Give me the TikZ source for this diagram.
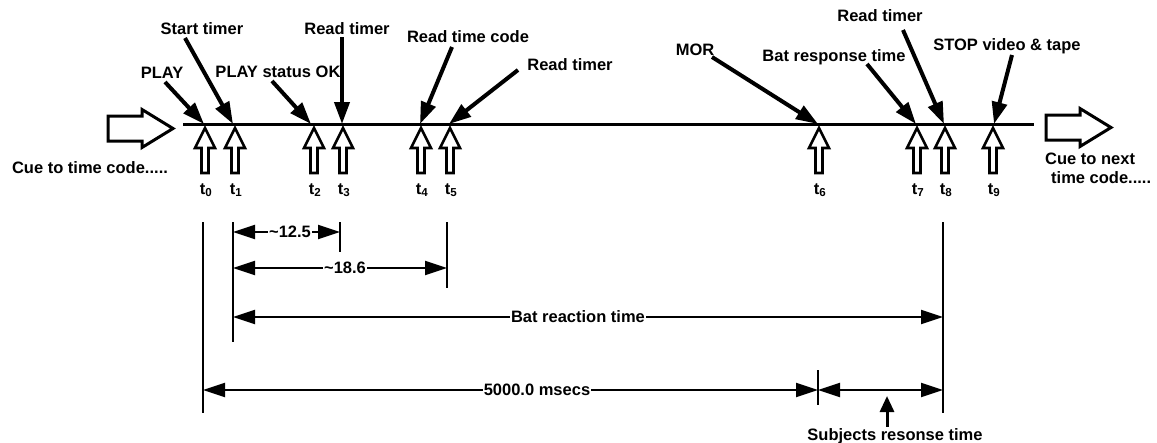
\documentclass[tikz,border=0pt]{standalone}
\usepackage{fontspec}
\setmainfont{Liberation Sans}
\usetikzlibrary{arrows.meta}

\begin{document}
\begin{tikzpicture}[x=1pt,y=-1pt,
  txt/.style={font=\bfseries\fontsize{16.5}{19}\selectfont,inner sep=1pt},
  callout/.style={line width=4pt,-{Triangle[length=22pt,width=15pt]}},
  dim/.style={line width=2.2pt,-{Triangle[length=22pt,width=14pt]}},
  bothdim/.style={line width=2.2pt,{Triangle[length=22pt,width=14pt]}-{Triangle[length=22pt,width=14pt]}},
  vline/.style={line width=2.6pt},
  timeline/.style={line width=3pt},
  upopen/.pic={\draw[line width=2.6pt] (0,0) -- (10,20) -- (3.5,20) -- (3.5,45) -- (-3.5,45) -- (-3.5,20) -- (-10,20) -- cycle;},
  bigopen/.pic={\draw[line width=3pt] (0,-12.5) -- (34,-12.5) -- (34,-19) -- (65,0) -- (34,19) -- (34,12.5) -- (0,12.5) -- cycle;}]
  \useasboundingbox (0,0) rectangle (1157,442);

  \coordinate (tlstart) at (183,124);
  \coordinate (tlend) at (1034,124);
  \draw[timeline] (tlstart) -- (tlend);
  \pic at (108,128.5) {bigopen};
  \pic at (1046,127.5) {bigopen};

  \coordinate (t0) at (204,124);
  \coordinate (t1) at (233,124);
  \coordinate (t2) at (311,124);
  \coordinate (t3) at (342,124);
  \coordinate (t4) at (420,124);
  \coordinate (t5) at (449,124);
  \coordinate (t6) at (818,124);
  \coordinate (t7) at (916,124);
  \coordinate (t8) at (944,124);
  \coordinate (t9) at (994,124);

  \pic at (205,128) {upopen};
  \pic at (235,128) {upopen};
  \pic at (314,128) {upopen};
  \pic at (343,128) {upopen};
  \pic at (421,128) {upopen};
  \pic at (450,128) {upopen};
  \pic at (819,128) {upopen};
  \pic at (917,128) {upopen};
  \pic at (945,128) {upopen};
  \pic at (993,128) {upopen};

  \node[txt,anchor=base] (l0) at (206,194) {t\textsubscript{0}};
  \node[txt,anchor=base] (l1) at (236,194) {t\textsubscript{1}};
  \node[txt,anchor=base] (l2) at (315,194) {t\textsubscript{2}};
  \node[txt,anchor=base] (l3) at (344,194) {t\textsubscript{3}};
  \node[txt,anchor=base] (l4) at (422,194) {t\textsubscript{4}};
  \node[txt,anchor=base] (l5) at (451,194) {t\textsubscript{5}};
  \node[txt,anchor=base] (l6) at (820,194) {t\textsubscript{6}};
  \node[txt,anchor=base] (l7) at (918,194) {t\textsubscript{7}};
  \node[txt,anchor=base] (l8) at (946,194) {t\textsubscript{8}};
  \node[txt,anchor=base] (l9) at (994,194) {t\textsubscript{9}};

  \node[txt,anchor=base] (play) at (162,78) {PLAY};
  \node[txt,anchor=base] (start) at (202,34) {Start timer};
  \node[txt,anchor=base] (playok) at (278,77) {PLAY status OK};
  \node[txt,anchor=base] (read1) at (347,34) {Read timer};
  \node[txt,anchor=base] (readtc) at (468,42) {Read time code};
  \node[txt,anchor=base] (read2) at (570,70) {Read timer};
  \node[txt,anchor=base] (mor) at (695,55) {MOR};
  \node[txt,anchor=base] (batresp) at (834,61) {Bat response time};
  \node[txt,anchor=base] (read3) at (880,21) {Read timer};
  \node[txt,anchor=base] (stop) at (1007,50) {STOP video \& tape};

  \coordinate (a0) at (165,82);
  \coordinate (a1) at (185,38);
  \coordinate (a2) at (272,81);
  \coordinate (a3) at (342,37);
  \coordinate (a4) at (452,47);
  \coordinate (a5) at (518,70);
  \coordinate (a6) at (712,57);
  \coordinate (a7) at (867,64);
  \coordinate (a8) at (903,30);
  \coordinate (a9) at (1012,55);
  \draw[callout] (a0) -- (t0);
  \draw[callout] (a1) -- (t1);
  \draw[callout] (a2) -- (t2);
  \draw[callout] (a3) -- (t3);
  \draw[callout] (a4) -- (t4);
  \draw[callout] (a5) -- (t5);
  \draw[callout] (a6) -- (t6);
  \draw[callout] (a7) -- (t7);
  \draw[callout] (a8) -- (t8);
  \draw[callout] (a9) -- (t9);

  \node[txt,anchor=base] (cue) at (90,173) {Cue to time code.....};
  \node[txt,anchor=north west,align=left] (cuenext) at (1044,152) {Cue to next\\\hspace*{6pt}time code.....};

  \coordinate (v0a) at (203,222);
  \coordinate (v0b) at (203,413);
  \coordinate (v1a) at (233,222);
  \coordinate (v1b) at (233,342);
  \coordinate (v3a) at (340,222);
  \coordinate (v3b) at (340,252);
  \coordinate (v5a) at (447,222);
  \coordinate (v5b) at (447,288);
  \coordinate (v8a) at (943,222);
  \coordinate (v8b) at (943,413);
  \coordinate (s6a) at (818,370);
  \coordinate (s6b) at (818,405);
  \draw[vline] (v0a) -- (v0b);
  \draw[vline] (v1a) -- (v1b);
  \draw[vline] (v3a) -- (v3b);
  \draw[vline] (v5a) -- (v5b);
  \draw[vline] (v8a) -- (v8b);
  \draw[vline] (s6a) -- (s6b);

  \node[txt] (d125) at (290,232) {\textasciitilde12.5};
  \draw[dim] (d125.west) -- (d125.west -| v1a);
  \draw[dim] (d125.east) -- (d125.east -| v3a);
  \node[txt] (d186) at (345,268) {\textasciitilde18.6};
  \draw[dim] (d186.west) -- (d186.west -| v1a);
  \draw[dim] (d186.east) -- (d186.east -| v5a);
  \node[txt] (react) at (578,317) {Bat reaction time};
  \draw[dim] (react.west) -- (react.west -| v1a);
  \draw[dim] (react.east) -- (react.east -| v8a);
  \node[txt] (total) at (537,390) {5000.0 msecs};
  \draw[dim] (total.west) -- (total.west -| v0a);
  \draw[dim] (total.east) -- (total.east -| s6a);
  \draw[bothdim] (total -| s6a) -- (total -| v8a);

  \node[txt,anchor=base] (subj) at (895,440) {Subjects resonse time};
  \coordinate (srt) at (887,396);
  \draw[line width=3pt,-{Triangle[length=16pt,width=14pt]}] (srt |- subj.north) -- (srt);
\end{tikzpicture}
\end{document}
